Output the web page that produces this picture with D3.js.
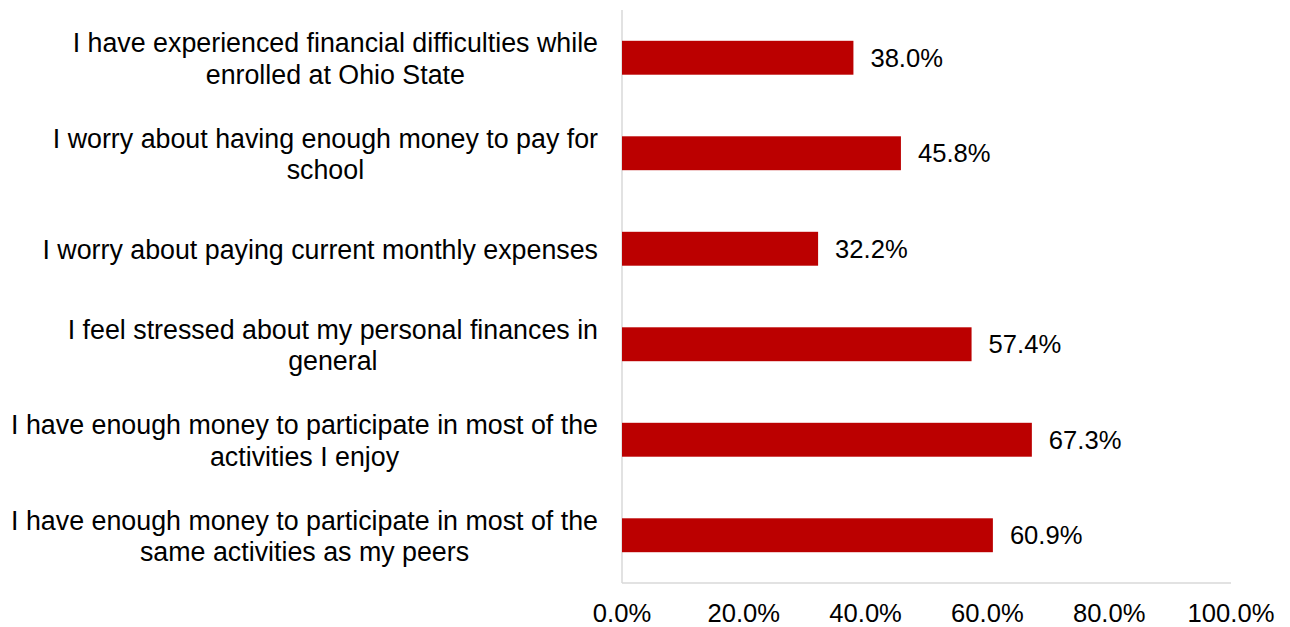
<!DOCTYPE html>
<html>
<head>
<meta charset="utf-8">
<script src="https://cdn.jsdelivr.net/npm/d3@7"></script>
<style>
  html, body { margin: 0; padding: 0; background: #fff; }
  svg { display: block; }
  text { font-family: "Liberation Sans", Arial, sans-serif; fill: #000; }
</style>
</head>
<body>
<svg id="chart" width="1290" height="627"></svg>
<script>
// Survey statements, top to bottom, with wrapped lines
const categories = [
  ["I have experienced financial difficulties while", "enrolled at Ohio State"],
  ["I worry about having enough money to pay for", "school"],
  ["I worry about paying current monthly expenses"],
  ["I feel stressed about my personal finances in", "general"],
  ["I have enough money to participate in most of the", "activities I enjoy"],
  ["I have enough money to participate in most of the", "same activities as my peers"]
];
const values = [38.0, 45.8, 32.2, 57.4, 67.3, 60.9];
const tickValues = [0, 20, 40, 60, 80, 100];

const svg = d3.select("#chart");
const margin = { left: 622, right: 1231, top: 10, bottom: 583 };
const numSize = 25.6;
const catSize = 26.8;

const x = d3.scaleLinear().domain([0, 100]).range([margin.left, margin.right]);
const y = d3.scaleBand()
  .domain(d3.range(categories.length))
  .range([margin.top, margin.bottom])
  .paddingInner(0.645)
  .paddingOuter(0.3225);

const fmt = v => v.toFixed(1) + "%";

// Axis lines
svg.append("line")
  .attr("x1", x(0)).attr("x2", x(0))
  .attr("y1", margin.top).attr("y2", margin.bottom)
  .attr("stroke", "#d9d9d9").attr("stroke-width", 1.5);
svg.append("line")
  .attr("x1", x(0)).attr("x2", x(100))
  .attr("y1", margin.bottom).attr("y2", margin.bottom)
  .attr("stroke", "#d9d9d9").attr("stroke-width", 1.5);

// Bars
svg.selectAll("rect.bar")
  .data(values)
  .join("rect")
  .attr("class", "bar")
  .attr("x", x(0))
  .attr("y", (d, i) => y(i))
  .attr("width", d => x(d) - x(0))
  .attr("height", y.bandwidth())
  .attr("fill", "#bb0000");

// Value labels
svg.selectAll("text.value")
  .data(values)
  .join("text")
  .attr("class", "value")
  .attr("x", d => x(d) + 17)
  .attr("y", (d, i) => y(i) + y.bandwidth() / 2)
  .attr("dy", "0.35em")
  .style("font-size", numSize + "px")
  .text(fmt);

// X tick labels
svg.selectAll("text.tick")
  .data(tickValues)
  .join("text")
  .attr("class", "tick")
  .attr("x", d => x(d))
  .attr("y", 613)
  .attr("dy", "0.35em")
  .attr("text-anchor", "middle")
  .style("font-size", numSize + "px")
  .text(fmt);

// Category labels: each block right-aligned at the axis, lines centered within it
const labelRight = 598;
const lineHeight = 31.5;
categories.forEach((lines, i) => {
  const g = svg.append("text")
    .style("font-size", catSize + "px")
    .attr("text-anchor", "middle");
  const tspans = lines.map(l => g.append("tspan").text(l));
  const maxW = d3.max(tspans, t => t.node().getComputedTextLength());
  const cx = labelRight - maxW / 2;
  const cy = y(i) + y.bandwidth() / 2 + 1;
  const startY = cy - (lines.length - 1) * lineHeight / 2;
  tspans.forEach((t, k) => {
    t.attr("x", cx).attr("y", startY + k * lineHeight).attr("dy", "0.35em");
  });
});
</script>
</body>
</html>
